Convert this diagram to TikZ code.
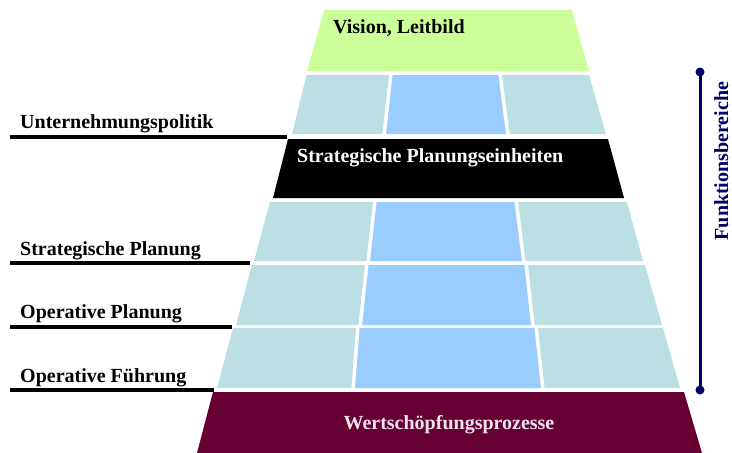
\documentclass[tikz,border=0pt]{standalone}
\usepackage{fontspec}
\setmainfont{Liberation Serif}
\definecolor{visgreen}{HTML}{CCFF99}
\definecolor{cellteal}{HTML}{BBDFE2}
\definecolor{cellblue}{HTML}{99CCFF}
\definecolor{wmaroon}{HTML}{660033}
\definecolor{wtext}{HTML}{F0E4EA}
\definecolor{fnavy}{HTML}{000066}
\tikzset{
  lbl/.style={anchor=base west, inner sep=0pt, font=\fontsize{20}{24}\selectfont\bfseries},
  inlbl/.style={inner sep=0pt, font=\fontsize{20}{24}\selectfont\bfseries},
  uline/.style={line width=3.5pt, black},
  divider/.style={white, line width=3.5pt},
  fbar/.style={fnavy, line width=3pt},
  fdot/.style={circle, fill=fnavy, inner sep=0pt, minimum size=9pt}
}
\begin{document}
\begin{tikzpicture}[x=1pt,y=-1pt]
\useasboundingbox (0,0) rectangle (732,453);
% Vision
\fill[visgreen] (324,10) -- (572,10) -- (589,71) -- (307,71) -- cycle;
% Row 1
\fill[cellteal] (306.5,75) -- (589,75) -- (606,134) -- (292,134) -- cycle;
\fill[cellblue] (391,75) -- (500,75) -- (508,134) -- (384,134) -- cycle;
\draw[divider] (391,73) -- (384,136);
\draw[divider] (500,73) -- (508,136);
% Black band
\fill[black] (288,139) -- (608,139) -- (624,198) -- (273,198) -- cycle;
% Row 2
\fill[cellteal] (270,202) -- (627,202) -- (643,261) -- (254,261) -- cycle;
\fill[cellblue] (375,202) -- (516,202) -- (524,261) -- (368,261) -- cycle;
\draw[divider] (375,200) -- (368,263);
\draw[divider] (516,200) -- (524,263);
% Row 3
\fill[cellteal] (252,265) -- (645,265) -- (662,325) -- (236,325) -- cycle;
\fill[cellblue] (367,265) -- (526,265) -- (533,325) -- (360,325) -- cycle;
\draw[divider] (367,263) -- (360,327);
\draw[divider] (526,263) -- (533,327);
% Row 4
\fill[cellteal] (233,328) -- (663,328) -- (680,388) -- (217,388) -- cycle;
\fill[cellblue] (358,328) -- (536,328) -- (543,388) -- (353,388) -- cycle;
\draw[divider] (358,326) -- (353,390);
\draw[divider] (536,326) -- (543,390);
% Bottom band
\fill[wmaroon] (213,392) -- (684,392) -- (702,453) -- (197,453) -- cycle;

% Texts inside pyramid
\node[lbl] (vision) at (333,33) {Vision, Leitbild};
\node[lbl, text=white] (spe) at (297,162) {Strategische Planungseinheiten};
\node[inlbl, anchor=base, text=wtext] (wsp) at (449,429) {Wertschöpfungsprozesse};

% Left labels
\node[lbl] (up) at (20,128) {Unternehmungspolitik};
\node[lbl] (sp) at (20,255) {Strategische Planung};
\node[lbl] (op) at (20,318) {Operative Planung};
\node[lbl] (of) at (20,382) {Operative Führung};
\coordinate (upA) at (10,137);  \coordinate (upB) at (287,137);
\coordinate (spA) at (10,263);  \coordinate (spB) at (250,263);
\coordinate (opA) at (10,327);  \coordinate (opB) at (232,327);
\coordinate (ofA) at (10,390);  \coordinate (ofB) at (214,390);
\draw[uline] (upA) -- (upB);
\draw[uline] (spA) -- (spB);
\draw[uline] (opA) -- (opB);
\draw[uline] (ofA) -- (ofB);

% Right bar
\node[fdot] (ftop) at (700,72) {};
\node[fdot] (fbot) at (700,390) {};
\draw[fbar] (ftop.center) -- (fbot.center);
\node[inlbl, rotate=90, anchor=base, text=fnavy] (funk) at (728,161) {Funktionsbereiche};
\end{tikzpicture}
\end{document}
